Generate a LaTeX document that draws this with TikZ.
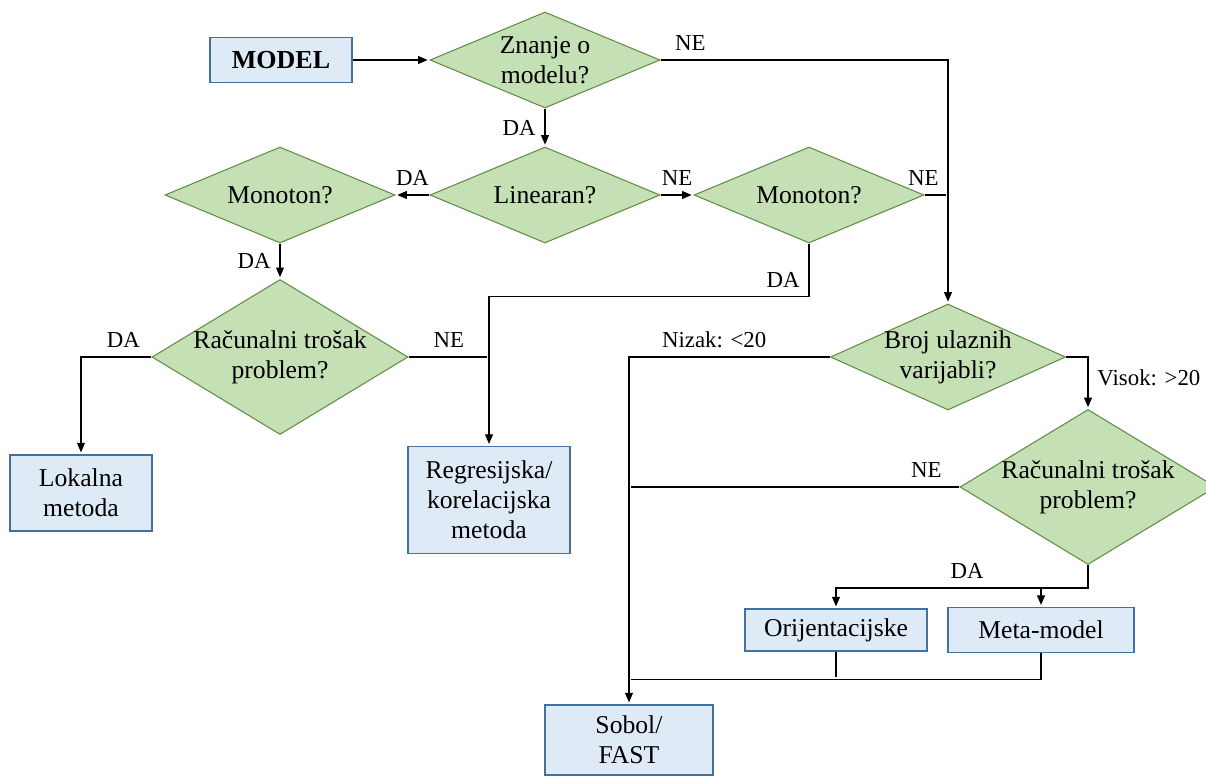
\documentclass[tikz,border=0pt]{standalone}
\usepackage{fontspec}
\setmainfont{Liberation Serif}
\usetikzlibrary{shapes.geometric,positioning,arrows.meta}
\definecolor{zelena}{RGB}{197,224,180}
\definecolor{rubzel}{RGB}{98,140,70}
\definecolor{plava}{RGB}{222,235,247}
\definecolor{rubplav}{RGB}{65,113,156}
\tikzset{
  decision/.style={diamond,draw=rubzel,fill=zelena,line width=0.6pt,inner sep=-2pt,aspect=2.4,
    minimum width=4.6cm,minimum height=1.92cm,align=center,font=\fontsize{14.6}{17}\selectfont},
  method/.style={rectangle,draw=rubplav,fill=plava,line width=0.9pt,align=center,
    font=\fontsize{14.6}{17}\selectfont},
  lbl/.style={font=\fontsize{13}{14}\selectfont,inner sep=5pt}
}

\begin{document}
\begin{tikzpicture}[shorten >=1pt,node distance=2cm,on grid,line width=0.8pt,
    >={Triangle[length=5.5pt,width=4.5pt]}]
   \useasboundingbox (0,0) rectangle (24.12,-15.52);
   \node[method,minimum width=2.84cm,minimum height=0.9cm,font=\fontsize{14.8}{17}\selectfont\bfseries] (model) at (5.62,-1.2) {MODEL};
   \node[decision] (znanje) [right=5.28cm of model] {Znanje o\\modelu?};
   \node[decision] (linearan) [below=2.7cm of znanje] {Linearan?};
   \node[decision] (mono_l) [left=5.3cm of linearan] {Monoton?};
   \node[decision] (mono_r) [right=5.28cm of linearan] {Monoton?};
   \node[decision,aspect=1.65,minimum width=5.12cm,minimum height=3.1cm] (trosak_1) [below=3.24cm of mono_l] {Računalni trošak\\problem?};
   \node[method,minimum width=2.84cm,minimum height=1.52cm] (lokalna) [below left=2.72cm and 3.98cm of trosak_1] {Lokalna\\metoda};
   \node[method,minimum width=3.24cm,minimum height=2.14cm] (regres) [below right=2.86cm and 4.18cm of trosak_1] {Regresijska/\\korelacijska\\metoda};
   \node[decision,aspect=2.2,minimum width=4.7cm,minimum height=2.12cm] (broj) [below right=3.24cm and 2.78cm of mono_r] {Broj ulaznih\\varijabli?};
   \node[decision,aspect=1.65,minimum width=5.12cm,minimum height=3.1cm] (trosak_2) [below right=2.6cm and 2.8cm of broj] {Računalni trošak\\problem?};
   \node[method,minimum width=3.64cm,minimum height=0.84cm] (orijent) [below left=2.86cm and 5.04cm of trosak_2] {Orijentacijske};
   \node[method,minimum width=3.72cm,minimum height=0.9cm] (meta) [right=4.1cm of orijent] {Meta-model};
   \node[method,minimum width=3.36cm,minimum height=1.4cm] (sobol) [below left=2.2cm and 4.14cm of orijent] {Sobol/\\FAST};
   \coordinate[above=0.5cm of sobol.north] (join);

   \path[->]
    (model) edge (znanje)
    (znanje) edge node[lbl,left] {DA} (linearan)
    (linearan) edge node[lbl,above] {DA} (mono_l)
               edge node[lbl,above] {NE} (mono_r)
    (mono_l) edge node[lbl,left] {DA} (trosak_1);

   \draw[->] (znanje.east) -| node[lbl,pos=0.052,above] {NE} (broj.north);
   \draw (mono_r.east) -- (mono_r.east -| broj.north) node[lbl,above left] {NE};
   \draw[->] (mono_r.south) -- ++(0,-1.06) node[lbl,above left] {DA} -| (regres.north);
   \draw (trosak_1.east) -- node[lbl,above] {NE} (trosak_1.east -| regres.north);
   \draw[->] (trosak_1.west) -| node[lbl,pos=0.2,above] {DA} (lokalna.north);
   \draw[->] (broj.west) -| node[lbl,pos=0.288,above] {Nizak: <20} (sobol.north);
   \draw[->] (broj.east) -| node[lbl,pos=0.7,right] {Visok: >20} (trosak_2.north);
   \draw (trosak_2.west) -- node[lbl,pos=0.1,above] {NE} (trosak_2.west -| sobol.north);
   \draw[->] (trosak_2.south) -- ++(0,-0.46) -| node[lbl,pos=0.24,above] {DA} (orijent.north);
   \draw[->] (trosak_2.south) -- ++(0,-0.46) -| (meta.north);
   \draw (orijent.south) -- (orijent.south |- join);
   \draw (meta.south) |- (join);
\end{tikzpicture}
\end{document}
